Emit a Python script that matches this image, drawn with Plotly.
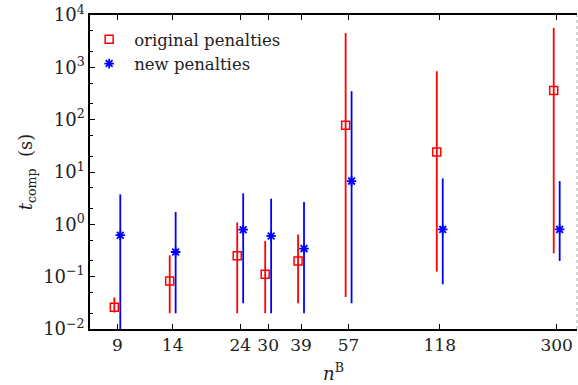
import plotly.graph_objects as go

n_b = [9, 14, 24, 30, 39, 57, 118, 300]
tick_labels = ["9", "14", "24", "30", "39", "57", "118", "300"]

orig_mid = [0.026, 0.083, 0.25, 0.111, 0.20, 78.5, 24, 361]
orig_hi = [0.040, 0.256, 1.08, 0.48, 0.64, 4550, 843, 5670]
orig_lo = [0.0206, 0.02, 0.02, 0.02, 0.031, 0.041, 0.125, 0.28]

new_mid = [0.62, 0.296, 0.79, 0.60, 0.344, 6.7, 0.80, 0.80]
new_hi = [3.74, 1.72, 3.9, 3.09, 2.67, 350, 7.55, 6.7]
new_lo = [0.005, 0.02, 0.031, 0.02, 0.02, 0.031, 0.0716, 0.20]

shift = 1.024
font = "'DejaVu Serif', serif"

x_orig = [v / shift for v in n_b]
x_new = [v * shift for v in n_b]

fig = go.Figure()
fig.add_trace(go.Scatter(
    x=x_orig, y=orig_mid, mode="markers", name="original penalties",
    marker=dict(symbol="square-open", color="red", size=8, line=dict(width=1.5, color="red")),
    error_y=dict(type="data", symmetric=False,
                 array=[h - m for h, m in zip(orig_hi, orig_mid)],
                 arrayminus=[m - l for m, l in zip(orig_mid, orig_lo)],
                 color="red", thickness=1.8, width=0),
))
fig.add_trace(go.Scatter(
    x=x_new, y=new_mid, mode="markers", name="new penalties",
    marker=dict(symbol="asterisk-open", color="blue", size=8, line=dict(width=1.8, color="blue")),
    error_y=dict(type="data", symmetric=False,
                 array=[h - m for h, m in zip(new_hi, new_mid)],
                 arrayminus=[m - l for m, l in zip(new_mid, new_lo)],
                 color="blue", thickness=1.8, width=0),
))

ytv = [1e-2, 1e-1, 1, 10, 100, 1000, 1e4]
ytt = ["10<sup>−2</sup>", "10<sup>−1</sup>", "10<sup>0</sup>", "10<sup>1</sup>",
       "10<sup>2</sup>", "10<sup>3</sup>", "10<sup>4</sup>"]

fig.update_layout(
    width=578, height=385,
    margin=dict(l=90, r=1, t=15, b=56),
    paper_bgcolor="white", plot_bgcolor="white",
    font=dict(family=font, size=17, color="#222"),
    showlegend=True,
    legend=dict(x=-0.012, y=0.978, xanchor="left", yanchor="top",
                bgcolor="rgba(0,0,0,0)", font=dict(size=16.5), itemwidth=40,
                tracegroupgap=0),
    xaxis=dict(type="log", range=[0.8596, 2.5475], tickvals=n_b, ticktext=tick_labels,
               ticks="inside", ticklen=5, tickcolor="black", showline=True, linecolor="black",
               linewidth=1.5, mirror="ticks", showgrid=False, zeroline=False,
               title=dict(text="<i>n</i><sup>B</sup>", standoff=13, font=dict(size=18))),
    yaxis=dict(type="log", range=[-2, 4], tickvals=ytv, ticktext=ytt,
               ticks="inside", ticklen=5, tickcolor="black", showline=True, linecolor="black",
               linewidth=1.5, showgrid=False, zeroline=False, tickfont=dict(size=18),
               minor=dict(ticks="inside", ticklen=3, tickcolor="black", showgrid=False),
               title=dict(text="<i>t</i><sub>comp</sub>  (s)", standoff=6, font=dict(size=18))),
)
fig.add_shape(type="line", xref="paper", yref="paper", x0=1, x1=1, y0=0, y1=1,
              line=dict(color="#aaa", width=1, dash="dot"))

fig.write_html("out.html")
